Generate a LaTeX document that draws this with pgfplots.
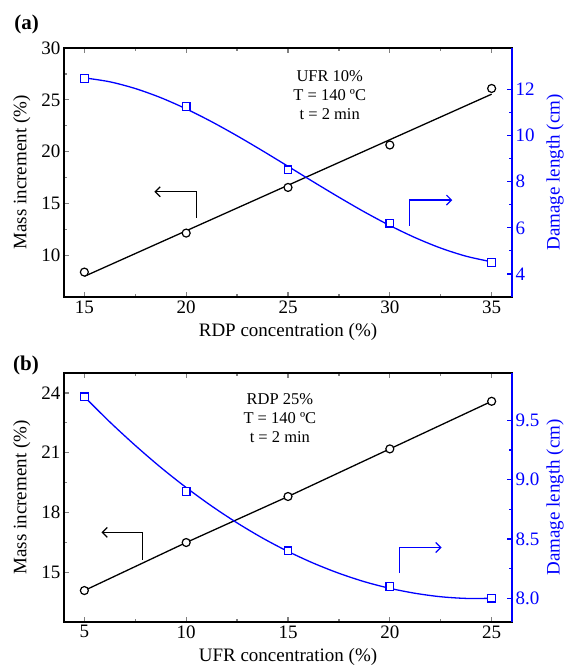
\documentclass[border=0pt]{standalone}
\usepackage{pgfplots}
\pgfplotsset{compat=1.18}
\usepackage{fontspec}
\setmainfont{Liberation Serif}
\usetikzlibrary{arrows.meta}

\definecolor{pblue}{RGB}{0,0,255}

\pgfplotsset{
  base/.style={
    scale only axis, width=448pt, height=249pt, anchor=north west,
    /pgf/number format/assume math mode=true,
    tick align=inside, major tick length=5pt, minor tick length=3pt,
    tick style={line width=1.2pt},
    axis line style={line width=2pt},
    ticklabel style={font=\fontsize{19}{22}\selectfont},
    minor x tick num=1, minor y tick num=1,
    xtick={5,10,...,35},
  },
  leftax/.style={base,
    ytick pos=left, xtick pos=both,
    every axis y label/.style={at={(axis description cs:-0.094,0.5)}, rotate=90, anchor=center,
      font=\fontsize{19}{22}\selectfont},
    every axis x label/.style={at={(axis description cs:0.5,-0.14)}, anchor=center,
      font=\fontsize{19}{22}\selectfont},
  },
  rightax/.style={base,
    axis x line=none, axis y line*=right, tick align=inside,
    axis line style={pblue, line width=2pt},
    tick style={pblue, line width=1.2pt},
    yticklabel style={pblue},
    every axis y label/.style={at={(axis description cs:1.096,0.5)}, rotate=90, anchor=center,
      font=\fontsize{19}{22}\selectfont, text=pblue},
  },
  circ/.style={black, line width=1.3pt, mark=*, mark size=4pt, mark options={fill=white, line width=1.2pt}},
  sq/.style={pblue, only marks, mark=square*, mark size=3.8pt, mark options={fill=white, line width=1.2pt}},
}
\tikzset{note/.style={align=center, font=\fontsize{16.5}{19}\selectfont}}

\begin{document}
\begin{tikzpicture}
\path[use as bounding box] (0,0) rectangle (567pt,-666pt);

\node[font=\bfseries\fontsize{21}{23}\selectfont] at (26.5pt,-24pt) {(a)};
\node[font=\bfseries\fontsize{21}{23}\selectfont] at (26pt,-365pt) {(b)};

% ---- panel (a)
\begin{axis}[leftax, at={(64pt,-48pt)},
  xmin=14, xmax=36, ymin=6, ymax=30, ytick={10,15,...,30},
  xlabel={RDP concentration (\%)}, ylabel={Mass increment (\%)}]
  % linear fit
  \addplot[black, line width=1.3pt] coordinates {(15,7.99) (35,25.55)};
  \addplot[black, only marks, mark=*, mark size=4pt, mark options={fill=white, line width=1.2pt}]
    coordinates {(15,8.4) (20,12.16) (25,16.56) (30,20.65) (35,26.1)};
  \draw[black, line width=1.2pt, -{Straight Barb[length=5pt,width=10pt]}]
    (axis cs:20.49,13.64) -- (axis cs:20.49,16.14) -- (axis cs:18.44,16.14);
  \draw[pblue, line width=1.2pt, -{Straight Barb[length=5pt,width=10pt]}]
    (axis cs:30.97,12.86) -- (axis cs:30.97,15.34) -- (axis cs:33.07,15.34);
  \node[note] at (axis cs:27.05,25.45) {UFR 10\%\\T = 140 ºC\\t = 2 min};
\end{axis}
\begin{axis}[rightax, at={(64pt,-48pt)},
  xmin=14, xmax=36, ymin=3, ymax=13.8, ytick={4,6,...,12},
  ylabel={Damage length (cm)}]
  % fitted curve
  \addplot[pblue, line width=1.3pt, smooth] coordinates {
    (15,12.505) (16.25,12.334) (17.5,12.042) (18.75,11.646) (20,11.16)
    (21.25,10.603) (22.5,9.991) (23.75,9.341) (25,8.669) (26.25,7.992)
    (27.5,7.328) (28.75,6.691) (30,6.10) (31.25,5.572) (32.5,5.122)
    (33.75,4.768) (35,4.525)};
  \addplot[sq] coordinates {(15,12.48) (20,11.26) (25,8.52) (30,6.2) (35,4.5)};
\end{axis}

% ---- panel (b)
\begin{axis}[leftax, at={(64pt,-373pt)},
  xmin=4, xmax=26, ymin=12.5, ymax=25, ytick={15,18,21,24},
  xlabel={UFR concentration (\%)}, ylabel={Mass increment (\%)}]
  \addplot[circ] coordinates {(5,14.08) (10,16.49) (15,18.8) (20,21.19) (25,23.58)};
  \draw[black, line width=1.2pt, -{Straight Barb[length=5pt,width=10pt]}]
    (axis cs:7.85,15.62) -- (axis cs:7.85,17.0) -- (axis cs:5.84,17.0);
  \draw[pblue, line width=1.2pt, -{Straight Barb[length=5pt,width=10pt]}]
    (axis cs:20.46,14.95) -- (axis cs:20.46,16.24) -- (axis cs:22.54,16.24);
  \node[note] at (axis cs:14.6,22.76) {RDP 25\%\\T = 140 ºC\\t = 2 min};
\end{axis}
\begin{axis}[rightax, at={(64pt,-373pt)},
  xmin=4, xmax=26, ymin=7.8, ymax=9.9, ytick={8.0,8.5,9.0,9.5},
  yticklabel style={/pgf/number format/.cd, fixed, fixed zerofill, precision=1},
  ylabel={Damage length (cm)}]
  \addplot[pblue, line width=1.3pt, smooth] coordinates {
    (5,9.70) (6.25,9.487) (7.5,9.289) (8.75,9.104) (10,8.934)
    (11.25,8.778) (12.5,8.636) (13.75,8.508) (15,8.395) (16.25,8.296)
    (17.5,8.211) (18.75,8.140) (20,8.084) (21.25,8.042) (22.5,8.013)
    (23.75,7.999) (25,8.00)};
  \addplot[sq] coordinates {(5,9.70) (10,8.90) (15,8.40) (20,8.10) (25,8.00)};
\end{axis}
\end{tikzpicture}
\end{document}
